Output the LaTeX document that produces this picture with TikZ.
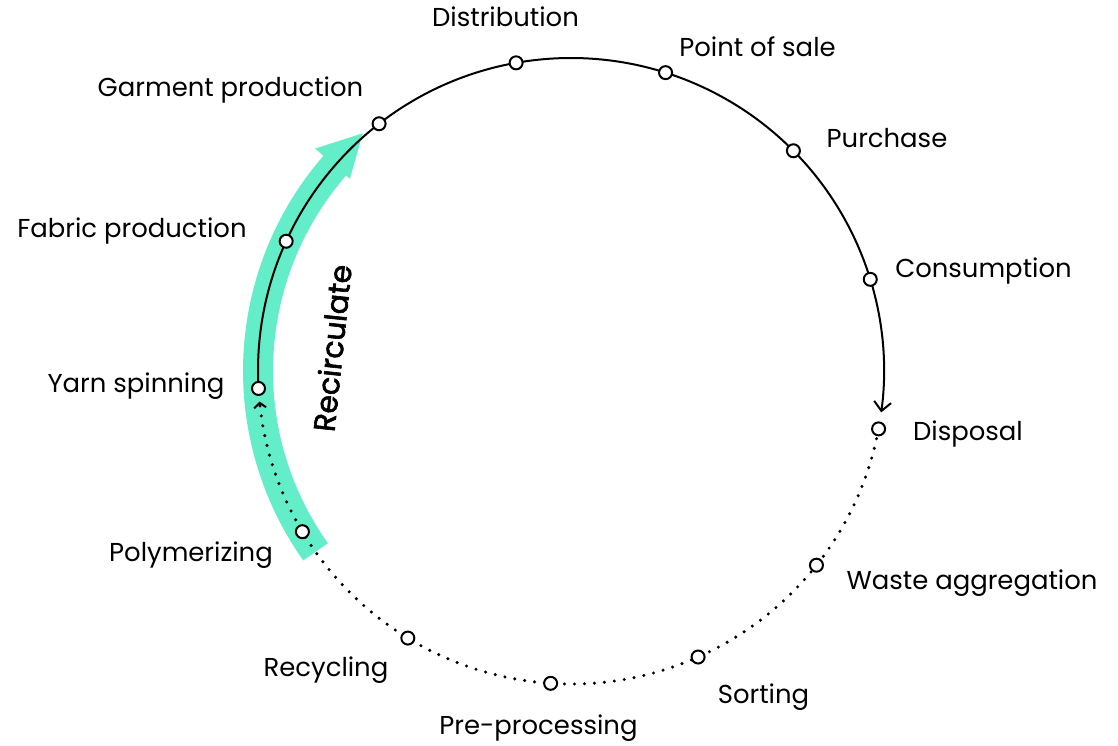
\documentclass[tikz,border=0pt]{standalone}
\usepackage{fontspec}
\setmainfont{Poppins}
\newfontfamily\recfont[FakeBold=2]{Poppins}
\usetikzlibrary{arrows.meta,calc}
\definecolor{mint}{RGB}{99,237,200}
\begin{document}
\begin{tikzpicture}[x=1bp,y=1bp,
  stage/.style={circle, draw=black, fill=white, line width=2bp, minimum size=13bp, inner sep=0pt},
  lbl/.style={anchor=base, font=\fontsize{26}{30}\selectfont, inner sep=0pt},
  flow/.style={line width=2bp, draw=black},
  dots/.style={line width=3.4bp, line cap=round, dash pattern=on 0bp off 10bp, draw=black},
  bigtip/.style={-{Straight Barb[length=9bp,width=17bp,line width=2bp]}},
  smalltip/.style={-{Straight Barb[length=5bp,width=12bp,line width=2bp]}},
  band/.style={line width=30bp, draw=mint}
]
\useasboundingbox (0,0) rectangle (1118,746);
\coordinate (O) at (571,375);
% positions on the circle
\coordinate (cDist) at ($(O)+(100.1:313)$);
\coordinate (cPos) at ($(O)+(72.41:313)$);
\coordinate (cPurch) at ($(O)+(44.72:313)$);
\coordinate (cCons) at ($(O)+(17.03:313)$);
\coordinate (cDisp) at ($(O)+(-10.66:313)$);
\coordinate (cWaste) at ($(O)+(-38.35:313)$);
\coordinate (cSort) at ($(O)+(-66.04:313)$);
\coordinate (cPre) at ($(O)+(-93.73:313)$);
\coordinate (cRecy) at ($(O)+(-121.42:313)$);
\coordinate (cPoly) at ($(O)+(-149.11:313)$);
\coordinate (cYarn) at ($(O)+(183.2:313)$);
\coordinate (cFab) at ($(O)+(155.51:313)$);
\coordinate (cGarm) at ($(O)+(127.82:313)$);
\coordinate (bandTail) at ($(O)+(215.3:313)$);
% recirculate band
\draw[band] (bandTail) arc[start angle=215.3, end angle=138.4, radius=313];
\fill[mint] ($(O)+(139:293)$) -- ($(O)+(131.2:316)$) -- ($(O)+(139:339)$) -- cycle;
% flows
\draw[flow, bigtip] (cYarn) arc[start angle=183.2, end angle=-7.6, radius=313];
\draw[dots] (cDisp) arc[start angle=-10.66, end angle=-173.6, radius=313];
\coordinate (dEnd) at ($(O)+(-173.6:313)$);
\draw[flow, smalltip] (dEnd) arc[start angle=-173.6, end angle=-174.4, radius=313];
% stage markers
\node[stage] (nDist) at (cDist) {};
\node[stage] (nPos) at (cPos) {};
\node[stage] (nPurch) at (cPurch) {};
\node[stage] (nCons) at (cCons) {};
\node[stage] (nDisp) at (cDisp) {};
\node[stage] (nWaste) at (cWaste) {};
\node[stage] (nSort) at (cSort) {};
\node[stage] (nPre) at (cPre) {};
\node[stage] (nRecy) at (cRecy) {};
\node[stage] (nPoly) at (cPoly) {};
\node[stage] (nYarn) at (cYarn) {};
\node[stage] (nFab) at (cFab) {};
\node[stage] (nGarm) at (cGarm) {};
% labels
\node[lbl] (lDist) at (505.5,719) {Distribution};
\node[lbl] (lPos) at (757.5,689) {Point of sale};
\node[lbl] (lPurch) at (887,598) {Purchase};
\node[lbl] (lCons) at (983.5,468) {Consumption};
\node[lbl] (lDisp) at (968,305) {Disposal};
\node[lbl] (lWaste) at (972,156) {Waste aggregation};
\node[lbl] (lSort) at (763.5,42) {Sorting};
\node[lbl] (lPre) at (538.5,11) {Pre-processing};
\node[lbl] (lRecy) at (326,69) {Recycling};
\node[lbl] (lPoly) at (191,184) {Polymerizing};
\node[lbl] (lYarn) at (136,353) {Yarn spinning};
\node[lbl] (lFab) at (132,508) {Fabric production};
\node[lbl] (lGarm) at (230.5,649) {Garment production};
\node[rotate=84, font=\recfont\fontsize{30}{33}\selectfont, inner sep=0pt] (rec) at (332,398) {Recirculate};
\end{tikzpicture}
\end{document}
